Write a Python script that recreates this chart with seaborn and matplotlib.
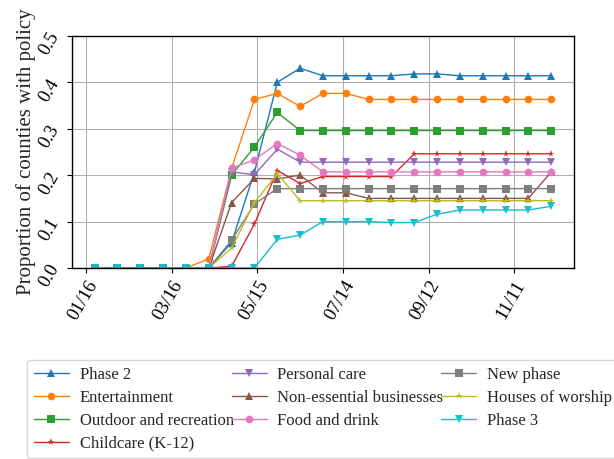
import numpy as np
import pandas as pd
import matplotlib
matplotlib.use("Agg")
import matplotlib.pyplot as plt
import matplotlib.dates as mdates
import seaborn as sns

# Sampling dates: every 16 days starting 2020-01-22
dates = pd.date_range("2020-01-22", periods=21, freq="16D")

policies = [
    "Phase 2", "Entertainment", "Outdoor and recreation", "Childcare (K-12)",
    "Personal care", "Non-essential businesses", "Food and drink",
    "New phase", "Houses of worship", "Phase 3",
]

phase_2 = [0, 0, 0, 0, 0, 0, 0.055, 0.207, 0.400, 0.430, 0.414, 0.414, 0.414,
           0.414, 0.418, 0.418, 0.414, 0.414, 0.414, 0.414, 0.414]
entertainment = [0, 0, 0, 0, 0, 0.020, 0.215, 0.363, 0.376, 0.348, 0.376, 0.376,
                 0.363, 0.363, 0.363, 0.363, 0.363, 0.363, 0.363, 0.363, 0.363]
outdoor = [0, 0, 0, 0, 0, 0, 0.200, 0.261, 0.335, 0.296, 0.296, 0.296, 0.296,
           0.296, 0.296, 0.296, 0.296, 0.296, 0.296, 0.296, 0.296]
childcare = [0, 0, 0, 0, 0, 0, 0.004, 0.095, 0.210, 0.182, 0.197, 0.197, 0.197,
             0.197, 0.246, 0.246, 0.246, 0.246, 0.246, 0.246, 0.246]
personal_care = [0, 0, 0, 0, 0, 0, 0.207, 0.201, 0.256, 0.228, 0.228, 0.228,
                 0.228, 0.228, 0.228, 0.228, 0.228, 0.228, 0.228, 0.228, 0.228]
non_essential = [0, 0, 0, 0, 0, 0, 0.141, 0.193, 0.192, 0.200, 0.162, 0.162,
                 0.150, 0.150, 0.150, 0.150, 0.150, 0.150, 0.150, 0.150, 0.207]
food_drink = [0, 0, 0, 0, 0, 0, 0.215, 0.233, 0.268, 0.243, 0.207, 0.207, 0.207,
              0.207, 0.207, 0.207, 0.207, 0.207, 0.207, 0.207, 0.207]
new_phase = [0, 0, 0, 0, 0, 0, 0.060, 0.138, 0.171, 0.171, 0.171, 0.171, 0.171,
             0.171, 0.171, 0.171, 0.171, 0.171, 0.171, 0.171, 0.171]
worship = [0, 0, 0, 0, 0, 0, 0.043, 0.141, 0.203, 0.145, 0.145, 0.145, 0.145,
           0.145, 0.145, 0.145, 0.145, 0.145, 0.145, 0.145, 0.145]
phase_3 = [0, 0, 0, 0, 0, 0, 0, 0, 0.062, 0.071, 0.100, 0.100, 0.100, 0.098,
           0.098, 0.116, 0.125, 0.125, 0.125, 0.125, 0.133]

series = [phase_2, entertainment, outdoor, childcare, personal_care,
          non_essential, food_drink, new_phase, worship, phase_3]
markers = ["^", "o", "s", "*", "v", "^", "o", "s", "*", "v"]

tick_dates = pd.date_range("2020-01-16", periods=6, freq="60D")

df = pd.concat(
    [pd.DataFrame({"date": dates, "value": vals, "policy": name})
     for name, vals in zip(policies, series)],
    ignore_index=True,
)

sns.set_theme(style="ticks")
plt.rcParams["font.family"] = ["Liberation Serif", "DejaVu Serif"]
plt.rcParams["axes.edgecolor"] = "black"

fig = plt.figure(figsize=(6.14, 4.59), dpi=100)
ax = fig.add_axes([0.117, 0.416, 0.818, 0.506])

palette = sns.color_palette("tab10", 10)
sns.lineplot(
    data=df, x="date", y="value", hue="policy", style="policy",
    hue_order=policies, style_order=policies, palette=palette,
    markers=markers, dashes=False, markersize=5.5, linewidth=1.0,
    markeredgewidth=0, ax=ax, legend=True,
)

ax.set_ylim(0, 0.5)
ax.set_yticks(np.arange(0, 0.51, 0.1))
ax.yaxis.set_major_formatter(matplotlib.ticker.FormatStrFormatter("%.1f"))
ax.set_xticks(tick_dates)
ax.xaxis.set_major_formatter(mdates.DateFormatter("%m/%d"))
ax.set_xlabel("")
ax.set_ylabel("Proportion of counties with policy", fontsize=15, labelpad=0)
ax.tick_params(axis="both", labelsize=13.5, rotation=60, length=3.5, width=0.8,
               colors="black")
for lbl in ax.get_xticklabels():
    lbl.set_ha("right")
    lbl.set_rotation_mode("anchor")
ax.grid(True, color="#b0b0b0", linewidth=0.8)
for sp in ax.spines.values():
    sp.set_visible(True)
    sp.set_color("black")
    sp.set_linewidth(1.0)

handles, labels = ax.get_legend_handles_labels()
ax.legend_.remove()
fig.legend(
    handles, labels, ncol=3, loc="upper left",
    bbox_to_anchor=(27 / 614, 1 - 360 / 459), bbox_transform=fig.transFigure,
    borderaxespad=0, fontsize=12, frameon=True, handlelength=2.1,
    columnspacing=-0.12, labelspacing=0.42, handletextpad=0.65,
    edgecolor="#cccccc", fancybox=True,
)

fig.savefig("out.png", dpi=100)
